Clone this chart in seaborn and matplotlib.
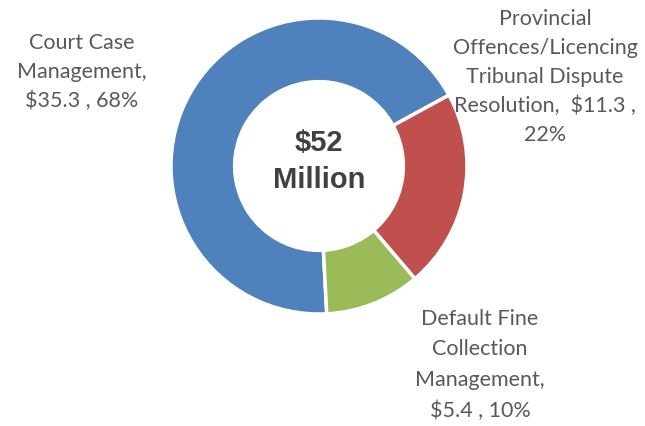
import matplotlib
matplotlib.use("Agg")
import matplotlib.pyplot as plt
import seaborn as sns

# budget split, $ millions
categories = ["Court Case\nManagement,", "Provincial\nOffences/Licencing\nTribunal Dispute\nResolution,",
              "Default Fine\nCollection\nManagement,"]
values = [35.3, 11.3, 5.4]
pcts = [68, 22, 10]
total_label = "$52\nMillion"

colors = ["#4F81BD", "#C0504D", "#9BBB59"]

sns.set_theme(style="white")
plt.rcParams["font.family"] = ["Lato", "DejaVu Sans"]

W, H = 645, 427
fig = plt.figure(figsize=(W / 100, H / 100), dpi=100)

cx, cy, r = 319, 167, 148
ax = fig.add_axes([(cx - r) / W, (H - cy - r) / H, 2 * r / W, 2 * r / H])
ax.pie(values, colors=colors, startangle=-87, counterclock=False,
       wedgeprops=dict(width=0.43, edgecolor="white", linewidth=2.5))
ax.set_xlim(-1, 1)
ax.set_ylim(-1, 1)
ax.axis("off")

ax.text(0, 0.035, total_label, ha="center", va="center", fontsize=21,
        fontweight="bold", color="#404040", family="Liberation Sans", linespacing=1.4)

# label text: name, value, percentage
labels = [
    f"{categories[0]}\n${values[0]} , {pcts[0]}%",
    f"{categories[1]}  ${values[1]} ,\n{pcts[1]}%",
    f"{categories[2]}\n${values[2]} , {pcts[2]}%",
]
label_pos = [(82, 72), (545, 77), (480, 365)]
spacing = [1.55, 1.55, 1.65]
for txt, (x, y), ls in zip(labels, label_pos, spacing):
    fig.text(x / W, 1 - y / H, txt, ha="center", va="center", fontsize=15.5,
             color="#595959", linespacing=ls)

fig.savefig("out.png", dpi=100)
